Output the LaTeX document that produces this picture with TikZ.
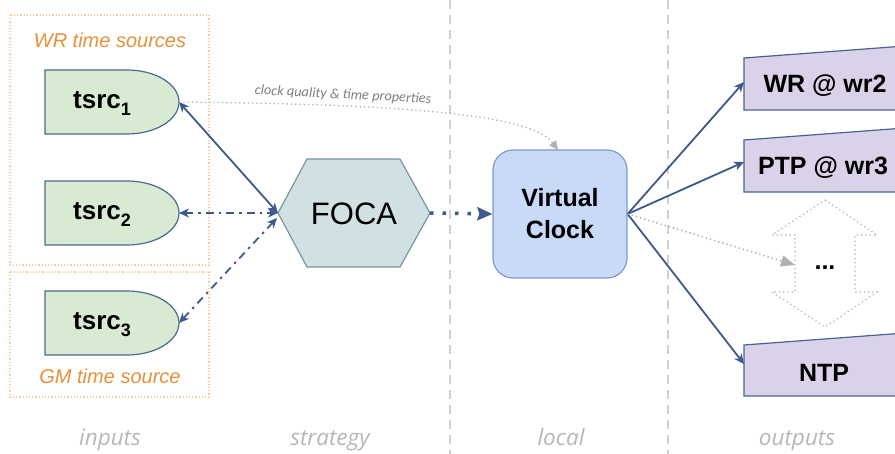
\documentclass[tikz,border=0pt]{standalone}
\usepackage{fontspec}
\setmainfont{Liberation Sans}
\newfontfamily\osans{Open Sans}
\newfontfamily\carl{Carlito}
\usetikzlibrary{arrows.meta}
\definecolor{arrowblue}{HTML}{3D5A8A}
\definecolor{srcfill}{HTML}{D9EAD3}
\definecolor{srcdraw}{HTML}{4A6B8F}
\definecolor{focafill}{HTML}{D0E0E3}
\definecolor{focadraw}{HTML}{7896A4}
\definecolor{vcfill}{HTML}{C9DAF8}
\definecolor{vcdraw}{HTML}{7B9BCB}
\definecolor{outfill}{HTML}{D9D2E9}
\definecolor{outdraw}{HTML}{4A6390}
\definecolor{orangeline}{HTML}{F9CB9C}
\definecolor{orangetext}{HTML}{E69138}
\definecolor{sepgray}{HTML}{D0D0D0}
\definecolor{labgray}{HTML}{B7B7B7}
\definecolor{dotgray}{HTML}{B0B0B0}
\tikzset{
  x=1pt, y=-1pt,
  srcshape/.style={fill=srcfill, draw=srcdraw, line width=1.2pt},
  srctext/.style={font=\fontsize{26}{26}\selectfont\bfseries, inner sep=0pt},
  outshape/.style={fill=outfill, draw=outdraw, line width=1.2pt},
  outtext/.style={font=\fontsize{25}{25}\selectfont\bfseries, inner sep=0pt},
  conn/.style={draw=arrowblue, line width=1.8pt},
  tipb/.tip={Stealth[length=10pt,width=9pt,inset=3pt]},
  dashdot/.style={dash pattern=on 8pt off 5pt on 2.5pt off 5pt},
  orangebox/.style={draw=orangeline, line width=1.2pt, dash pattern=on 1.2pt off 2pt},
  orangelab/.style={text=orangetext, font=\fontsize{20}{20}\selectfont\itshape, inner sep=0pt},
  sepline/.style={draw=sepgray, line width=1.5pt, dash pattern=on 9pt off 6pt},
  botlab/.style={text=labgray, font=\osans\itshape\fontsize{22.5}{22.5}\selectfont, inner sep=0pt, anchor=base},
  graydot/.style={draw=dotgray, line width=1.3pt, dash pattern=on 1.3pt off 3pt},
  dpic/.pic={
    \path[srcshape] (0,-32) -- (82,-32) .. controls (110.7,-32) and (134,-17.7) .. (134,0)
      .. controls (134,17.7) and (110.7,32) .. (82,32) -- (0,32) -- cycle;
  }
}
\begin{document}
\begin{tikzpicture}
\useasboundingbox (0,0) rectangle (895,454);
\clip (0,0) rectangle (895,454);
\fill[white] (0,0) rectangle (895,454);

% separators
\draw[sepline] (450,0) -- (450,454);
\draw[sepline] (668,0) -- (668,454);

% orange group boxes
\draw[orangebox] (10,15) rectangle (209,265);
\draw[orangebox] (10,272) rectangle (209,397);
\node[orangelab] (wrlab) at (110,40) {WR time sources};
\node[orangelab] (gmlab) at (110,376) {GM time source};

% time sources
\pic at (45,102) {dpic};
\pic at (45,213) {dpic};
\pic at (45,323) {dpic};
\node[srctext] (t1) at (102,104) {tsrc\raisebox{-7pt}{\fontsize{18}{18}\selectfont 1}};
\node[srctext] (t2) at (102,215) {tsrc\raisebox{-7pt}{\fontsize{18}{18}\selectfont 2}};
\node[srctext] (t3) at (102,325) {tsrc\raisebox{-7pt}{\fontsize{18}{18}\selectfont 3}};
\coordinate (t1e) at (179,102);
\coordinate (t2e) at (179,213);
\coordinate (t3e) at (179,323);

% FOCA
\path[fill=focafill, draw=focadraw, line width=1.2pt]
  (278,213) -- (307,159) -- (400,159) -- (430,213) -- (400,267) -- (307,267) -- cycle;
\node[font=\fontsize{31}{31}\selectfont, inner sep=0pt] (foca) at (354,214) {FOCA};
\coordinate (fw) at (278,213);
\coordinate (fe) at (430,213);

% Virtual clock
\node[fill=vcfill, draw=vcdraw, line width=1.2pt, rounded corners=20pt,
      minimum width=134pt, minimum height=128pt, inner sep=0pt, align=center,
      font=\fontsize{25}{32}\selectfont\bfseries] (vc) at (560,214) {Virtual\\Clock};

% outputs
\path[outshape] (744,58) -- (905,46) -- (905,110) -- (744,110) -- cycle;
\path[outshape] (744,140) -- (905,128) -- (905,192) -- (744,192) -- cycle;
\path[outshape] (744,345) -- (905,333) -- (905,396) -- (744,396) -- cycle;
\node[outtext] (o1) at (825,86) {WR @ wr2};
\node[outtext] (o2) at (823,168) {PTP @ wr3};
\node[outtext] (o3) at (824,373) {NTP};
\coordinate (o1w) at (744,82);
\coordinate (o2w) at (744,162);
\coordinate (o3w) at (744,364);

% dotted double arrow with dots
\path[graydot, line width=1.1pt]
  (825,200) -- (877,235) -- (855,235) -- (855,292) -- (877,292) -- (825,327)
  -- (772,292) -- (795,292) -- (795,235) -- (772,235) -- cycle;
\node[font=\fontsize{25}{25}\selectfont\bfseries, inner sep=0pt] (more) at (825,268) {...};
\coordinate (morew) at (795,265);

% connectors
\draw[conn, {tipb}-{tipb}] (t1e) -- (fw);
\draw[conn, dashdot, {tipb}-{tipb}] (t2e) -- (fw);
\draw[conn, dashdot, {tipb}-{tipb}] (t3e) -- (277,218);
\draw[draw=arrowblue, line width=3.5pt, dash pattern=on 3.5pt off 9pt, -{Stealth[length=15pt,width=13pt,inset=2pt]}]
  (fe) -- (vc.west);
\draw[conn, -{tipb}] (vc.east) -- (o1w);
\draw[conn, -{tipb}] (vc.east) -- (o2w);
\draw[conn, -{tipb}] (vc.east) -- (o3w);
\draw[graydot, line width=1.6pt, -{Triangle[length=14pt,width=11pt,color=dotgray]}]
  (vc.east) -- (morew);

% clock quality curve
\draw[graydot, -{Triangle[length=9pt,width=8pt,color=dotgray]}]
  (t1e) .. controls (380,104) and (530,112) .. (558,150);
\node[text=gray, font=\carl\itshape\fontsize{14.3}{14.3}\selectfont, rotate=-3, inner sep=0pt]
  (cq) at (343,95) {clock quality \& time properties};

% bottom labels
\node[botlab] (l1) at (110,446) {inputs};
\node[botlab] (l2) at (330,446) {strategy};
\node[botlab] (l3) at (561,446) {local};
\node[botlab] (l4) at (797,446) {outputs};
\end{tikzpicture}
\end{document}
